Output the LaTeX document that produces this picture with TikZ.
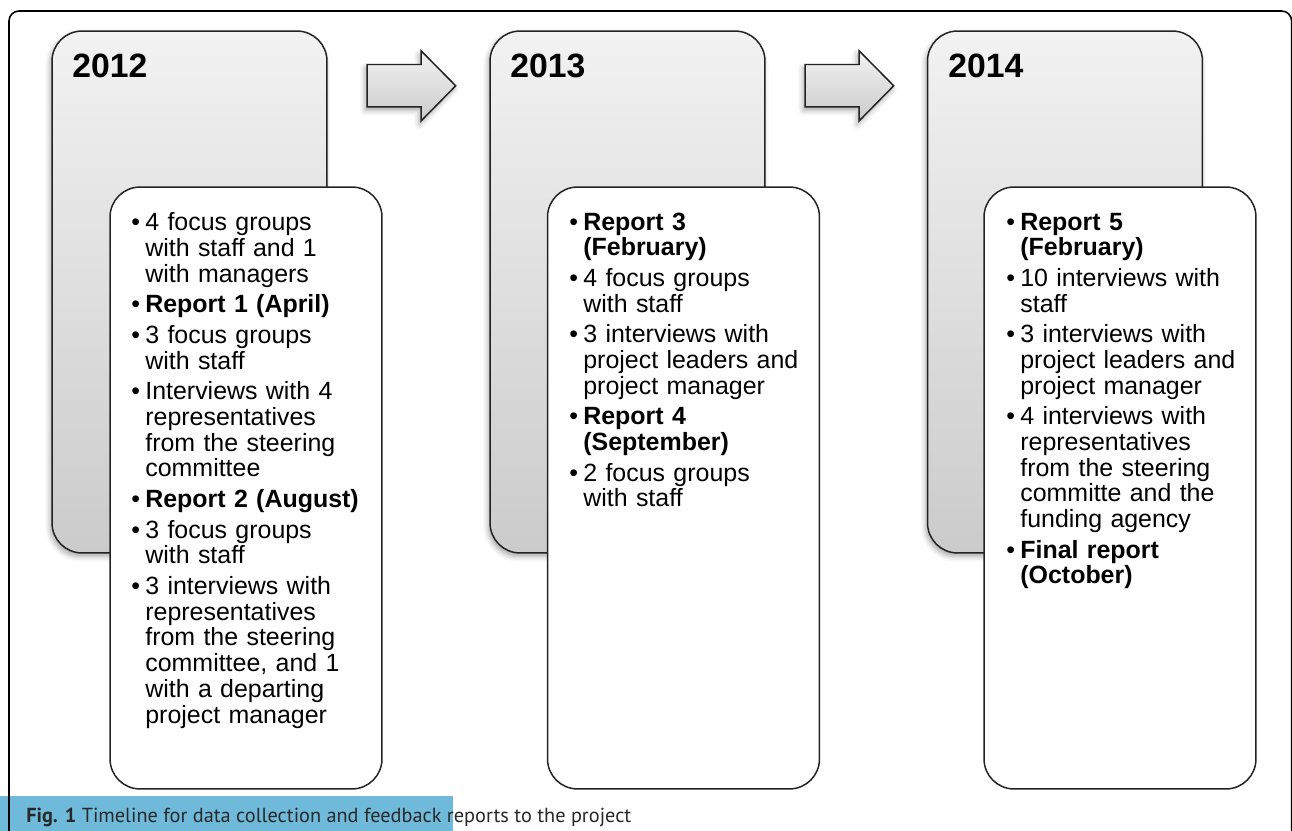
\documentclass[tikz,border=0pt]{standalone}
\usepackage{fontspec}
\setmainfont{Liberation Sans}
\newfontfamily\capfont{PT Sans}
\usetikzlibrary{shadows.blur}

\definecolor{bandblue}{RGB}{111,186,218}
\definecolor{captext}{RGB}{40,40,40}
\definecolor{panelTop}{RGB}{242,242,242}
\definecolor{panelBot}{RGB}{203,203,203}
\definecolor{edge}{RGB}{35,35,35}

% bullet items: first item of a list, and every following one
\newcommand\bfirst{\noindent\llap{\textbullet\hspace{3pt}}}
\newcommand\bnext{\par\vspace{2.8pt}\noindent\llap{\textbullet\hspace{3pt}}}

\begin{document}
\begin{tikzpicture}[x=0.02cm,y=-0.02cm,
  yearpanel/.style={draw=edge, line width=0.85pt, rounded corners=0.6cm,
    top color=panelTop, bottom color=panelBot,
    minimum width=5.5cm, minimum height=10.44cm, inner sep=0pt,
    blur shadow={shadow xshift=-1pt, shadow yshift=-2pt, shadow blur radius=3pt, shadow opacity=35}},
  listpanel/.style={draw=edge, line width=0.85pt, rounded corners=0.6cm, fill=white,
    minimum width=5.44cm, minimum height=12.04cm, inner sep=0pt},
  yearlabel/.style={anchor=base west, inner sep=0pt,
    font=\fontsize{19.2pt}{22pt}\selectfont\bfseries},
  listtext/.style={anchor=north west, inner sep=0pt, text width=4.9cm, align=left,
    font=\fontsize{14.2pt}{14.63pt}\selectfont},
  blockarrow/.style={draw=edge, line width=0.85pt, top color=panelTop, bottom color=panelBot,
    blur shadow={shadow xshift=-1pt, shadow yshift=-2pt, shadow blur radius=3pt, shadow opacity=35}},
]
\useasboundingbox (0,0) rectangle (1292,831);
\clip (0,0) rectangle (1292,831);

% caption band
\fill[bandblue] (0,796) rectangle (453,831);

% outer frame, open at the bottom
\draw[line width=0.9pt, rounded corners=0.2cm] (9,900) -- (9,11) -- (1291.6,11) -- (1291.6,900);

% year panels
\node[yearpanel] (back1) at (189.5,292) {};
\node[yearpanel] (back2) at (627.5,292) {};
\node[yearpanel] (back3) at (1065,292) {};

\node[yearlabel] (y1) at (72,78) {2012};
\node[yearlabel] (y2) at (510,78) {2013};
\node[yearlabel] (y3) at (948,78) {2014};

% block arrows between the year panels
\foreach \dx in {0, 438}{
  \begin{scope}[xshift=\dx*0.02cm]
  \draw[blockarrow] (367,64.5) -- (421,64.5) -- (421,50.7) -- (455.7,85.8)
    -- (421,121) -- (421,106.8) -- (367,106.8) -- cycle;
  \end{scope}
}

% activity lists
\node[listpanel] (front1) at (246,488) {};
\node[listpanel] (front2) at (683.5,488) {};
\node[listpanel] (front3) at (1120,488) {};

\node[listtext] (t1) at (145,212.5) {%
\bfirst 4 focus groups\newline with staff and 1\newline with managers
\bnext \textbf{Report 1 (April)}
\bnext 3 focus groups\newline with staff
\bnext Interviews with 4\newline representatives\newline from the steering\newline committee
\bnext \textbf{Report 2 (August)}
\bnext 3 focus groups\newline with staff
\bnext 3 interviews with\newline representatives\newline from the steering\newline committee, and 1\newline with a departing\newline project manager};

\node[listtext] (t2) at (583,212.5) {%
\bfirst \textbf{Report 3\newline (February)}
\bnext 4 focus groups\newline with staff
\bnext 3 interviews with\newline project leaders and\newline project manager
\bnext \textbf{Report 4\newline (September)}
\bnext 2 focus groups\newline with staff};

\node[listtext] (t3) at (1020,212.5) {%
\bfirst \textbf{Report 5\newline (February)}
\bnext 10 interviews with\newline staff
\bnext 3 interviews with\newline project leaders and\newline project manager
\bnext 4 interviews with\newline representatives\newline from the steering\newline committe and the\newline funding agency
\bnext \textbf{Final report\newline (October)}};

% caption
\node[anchor=base west, inner sep=0pt, text=captext,
  font=\capfont\fontsize{11.55pt}{13pt}\selectfont] (cap) at (26,822)
  {\textbf{Fig. 1} Timeline for data collection and feedback reports to the project};
\end{tikzpicture}
\end{document}
